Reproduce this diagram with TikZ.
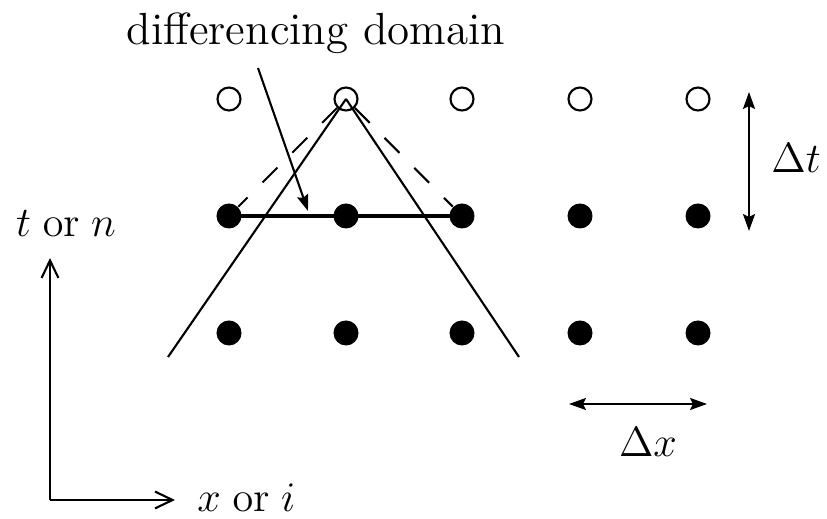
\documentclass[tikz,border=0pt]{standalone}
\usepackage{tikz}
\usetikzlibrary{positioning,arrows.meta}

\begin{document}
\begin{tikzpicture}[
  x=0.01cm, y=-0.01cm,
  font=\fontsize{12.8}{15}\selectfont,
  open/.style={circle, draw, line width=0.6pt, minimum size=0.23cm, inner sep=0pt},
  dot/.style={circle, fill, minimum size=0.25cm, inner sep=0pt},
  edge/.style={line width=0.6pt},
  dim/.style={{Stealth[length=4.8pt,width=3.4pt,inset=0.8pt]}-{Stealth[length=4.8pt,width=3.4pt,inset=0.8pt]}, line width=0.6pt},
  axis/.style={-{Straight Barb[length=5pt,width=4.8pt]}, line width=0.6pt}
]
\useasboundingbox (0,0) rectangle (827,519);

% grid of points
\foreach \i/\x in {1/229,2/346,3/462,4/580,5/698} {
  \node[open] (o\i) at (\x,99) {};
  \node[dot] (m\i) at (\x,216) {};
  \node[dot] (b\i) at (\x,333) {};
}

% domain of dependence
\coordinate (tl) at (168,357);
\coordinate (tr) at (519,357);
\draw[edge] (o2.center) -- (tl);
\draw[edge] (o2.center) -- (tr);
\draw[edge, dash pattern=on 6pt off 6pt] (o2) -- (m1);
\draw[edge, dash pattern=on 6pt off 6pt] (o2) -- (m3);
\draw[line width=1.3pt] (m1.center) -- (m3.center);

% label of the stencil
\node (lbl) at (316,33) {differencing domain};
\coordinate (lbltail) at (258,68);
\coordinate (lblhead) at (308,211);
\draw[edge, -{Stealth[length=4.6pt,width=3.2pt,inset=0.6pt]}] (lbltail) -- (lblhead);

% step sizes
\coordinate (dt1) at (749,92);
\coordinate (dt2) at (749,231);
\draw[dim] (dt1) -- (dt2);
\node (dtlbl) at (796,158) {$\Delta t$};
\coordinate (dx1) at (569,404);
\coordinate (dx2) at (707,404);
\draw[dim] (dx1) -- (dx2);
\node (dxlbl) at (648,442) {$\Delta x$};

% axes
\coordinate (orig) at (50,500);
\coordinate (tend) at (50,258);
\coordinate (xend) at (175,500);
\draw[axis] (orig) -- (tend);
\draw[axis] (orig) -- (xend);
\node (tlbl) at (66,224) {$t\;\mathrm{or}\;n$};
\node[anchor=west] (xlbl) at (185,498) {$x\;\mathrm{or}\;i$};
\end{tikzpicture}
\end{document}
